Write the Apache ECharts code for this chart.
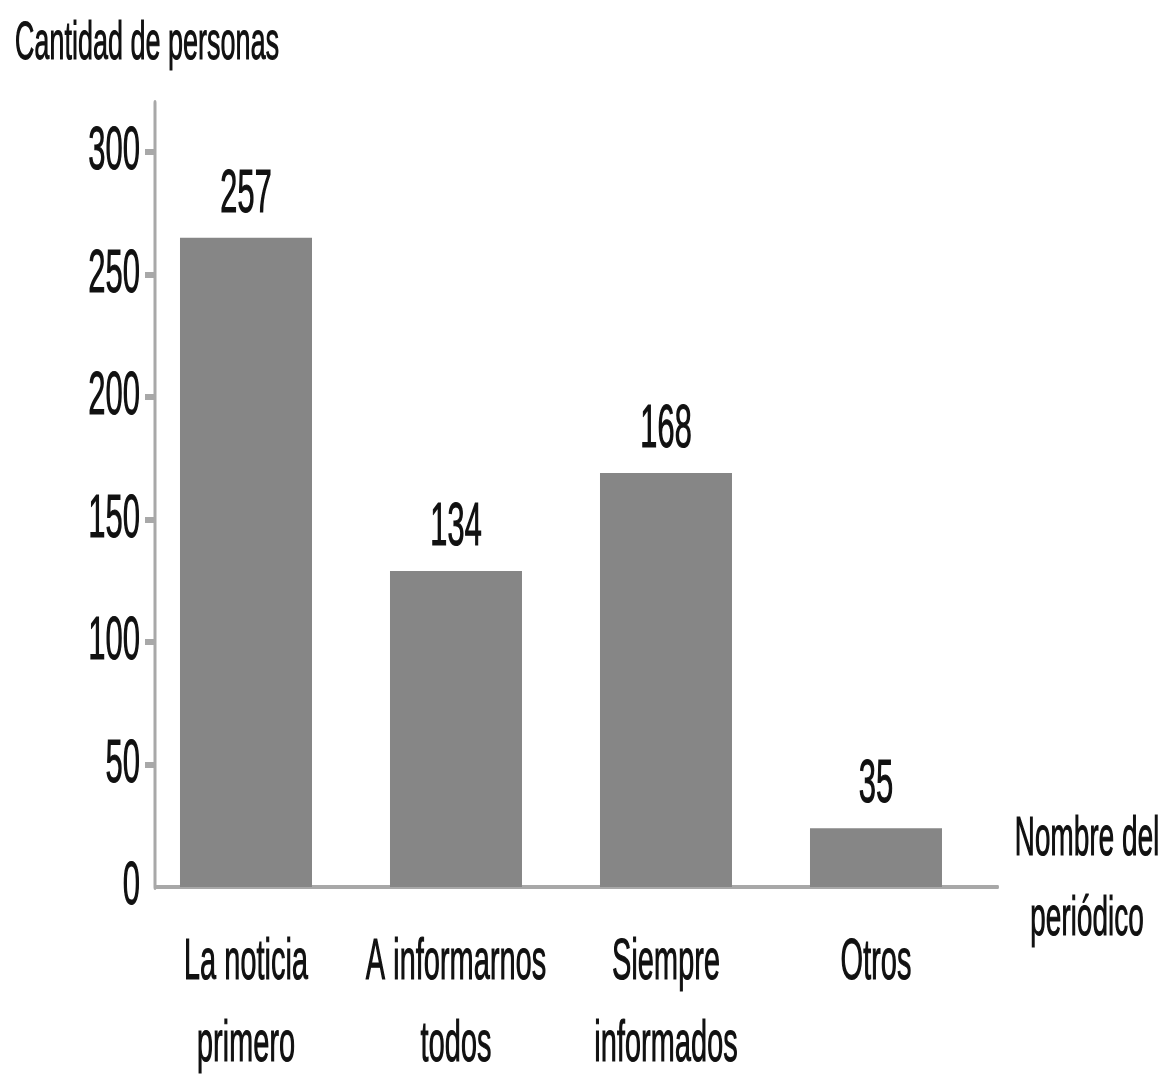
<!DOCTYPE html>
<html>
<head>
<meta charset="utf-8">
<title>Cantidad de personas</title>
<script src="https://cdn.jsdelivr.net/npm/echarts@6/dist/echarts.min.js"></script>
<style>
html,body{margin:0;padding:0;overflow:hidden;background:#fff;}
#wrap{width:1163px;height:1074px;overflow:hidden;}
/* the reference text is very narrow, so the chart is drawn twice as wide and squeezed */
#barGraph{width:2326px;height:1074px;transform:scaleX(0.5);transform-origin:0 0;}
</style>
</head>
<body>
<div id="wrap"><div id="barGraph"></div></div>
<script>
// categories (periódicos)
var categoryList = ['La noticia\nprimero', 'A informarnos\ntodos', 'Siempre\ninformados', 'Otros'];
// bar heights as drawn in the picture
var barHeightList = [265, 129, 169, 24];
// numbers printed above the bars
var labelList = [257, 134, 168, 35];
// y tick labels
var yTickList = [0, 50, 100, 150, 200, 250, 300];

var fontName = 'Liberation Sans';
var axisGrey = '#a8a8a8';
var textColor = '#111';

// bar data on a value x axis: [position, height]
var barData = [];
for (var i = 0; i < barHeightList.length; i++) {
	barData.push([i, barHeightList[i]]);
}
// no tick mark at 0, the x axis sits there
var yTickMarks = yTickList.filter(function (v) { return v > 0; });

var barChart = echarts.init(document.getElementById('barGraph'), null, {renderer: 'canvas'});

var option = {
	animation: false,
	backgroundColor: '#ffffff',
	grid: {
		left: 310,
		right: 330,
		top: 103,
		bottom: 187,
		outerBoundsMode: 'none'
	},
	xAxis: {
		type: 'value',
		min: -0.4333,
		max: 3.581,
		// small empty last line lifts the two-line name a little above the axis
		name: '{n|Nombre del}\n{n|periódico}\n{gap| }',
		nameLocation: 'end',
		nameGap: 178,
		nameTextStyle: {
			align: 'center',
			verticalAlign: 'middle',
			rich: {
				n: {
					fontFamily: fontName,
					fontSize: 56,
					lineHeight: 80,
					color: textColor,
					textBorderColor: textColor,
					textBorderWidth: 1,
					align: 'center'
				},
				gap: {
					fontSize: 8,
					lineHeight: 14
				}
			}
		},
		axisLine: {show: true, onZero: false, lineStyle: {color: axisGrey, width: 4}},
		axisTick: {show: false},
		splitLine: {show: false},
		axisLabel: {
			customValues: [0, 1, 2, 3],
			formatter: function (v) {
				return categoryList[Math.round(v)];
			},
			fontFamily: fontName,
			fontSize: 58,
			lineHeight: 82,
			margin: 35,
			color: textColor,
			textBorderColor: textColor,
			textBorderWidth: 1
		}
	},
	yAxis: {
		type: 'value',
		min: 0,
		max: 320,
		interval: 50,
		name: 'Cantidad de personas',
		nameLocation: 'end',
		nameGap: 32,
		nameTextStyle: {
			fontFamily: fontName,
			fontSize: 54,
			color: textColor,
			textBorderColor: textColor,
			textBorderWidth: 1,
			align: 'center',
			padding: [0, 32, 0, 0]
		},
		axisLine: {show: true, onZero: false, lineStyle: {color: axisGrey, width: 6}},
		axisTick: {
			show: true,
			customValues: yTickMarks,
			length: 20,
			lineStyle: {color: axisGrey, width: 6}
		},
		splitLine: {show: false},
		axisLabel: {
			customValues: yTickList,
			fontFamily: fontName,
			fontSize: 62,
			margin: 30,
			color: textColor,
			textBorderColor: textColor,
			textBorderWidth: 1
		}
	},
	series: [{
		type: 'bar',
		data: barData,
		barWidth: 264,
		itemStyle: {color: '#868686'},
		label: {
			show: true,
			position: 'top',
			distance: 12,
			fontFamily: fontName,
			fontSize: 62,
			color: textColor,
			textBorderColor: textColor,
			textBorderWidth: 1,
			formatter: function (p) {
				return labelList[p.dataIndex];
			}
		}
	}]
};

barChart.setOption(option);
</script>
</body>
</html>
